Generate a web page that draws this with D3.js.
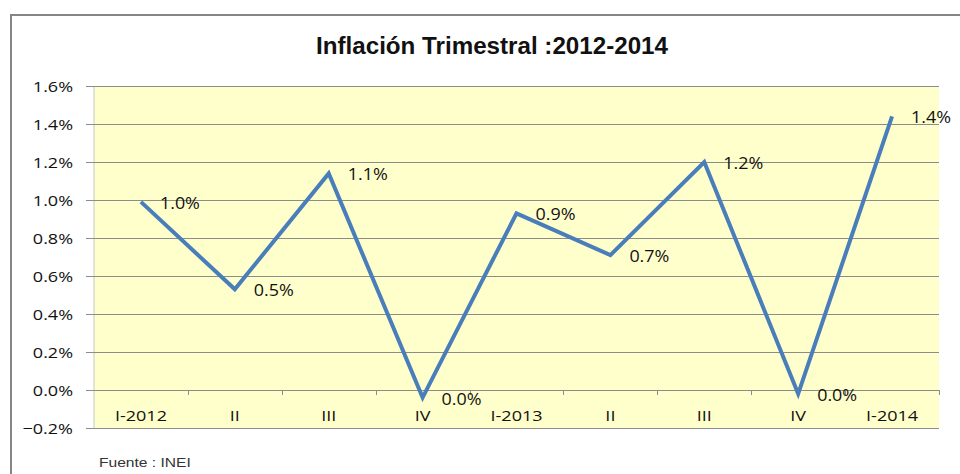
<!DOCTYPE html>
<html>
<head>
<meta charset="utf-8">
<script src="https://cdn.jsdelivr.net/npm/d3@7"></script>
<style>
  body { margin: 0; background: #fff; }
  svg { display: block; }
</style>
</head>
<body>
<div id="chart"></div>
<script>
// data
var quarters = ["I-2012", "II", "III", "IV", "I-2013", "II", "III", "IV", "I-2014"];
var inflation = [0.0099, 0.0053, 0.0114, -0.0004, 0.0093, 0.0071, 0.0120, -0.0002, 0.0144];
var pointLabels = ["1.0%", "0.5%", "1.1%", "0.0%", "0.9%", "0.7%", "1.2%", "0.0%", "1.4%"];
var yTicks = [-0.002, 0, 0.002, 0.004, 0.006, 0.008, 0.010, 0.012, 0.014, 0.016];

var width = 960, height = 474;
var margin = {top: 86, right: 21, bottom: 46, left: 94};

var svg = d3.select("#chart").append("svg")
  .attr("width", width)
  .attr("height", height);

// outer frame
svg.append("rect")
  .attr("x", 11).attr("y", 15)
  .attr("width", 980).attr("height", 500)
  .attr("fill", "none")
  .attr("stroke", "#868686")
  .attr("stroke-width", 2);

var x = d3.scaleBand()
  .domain(d3.range(quarters.length))
  .range([margin.left, width - margin.right])
  .padding(0);

var y = d3.scaleLinear()
  .domain([-0.002, 0.016])
  .range([height - margin.bottom, margin.top]);

// plot background
svg.append("rect")
  .attr("x", margin.left).attr("y", margin.top)
  .attr("width", width - margin.right - margin.left)
  .attr("height", height - margin.bottom - margin.top)
  .attr("fill", "#ffffcc");

svg.append("line")
  .attr("x1", margin.left).attr("x2", margin.left)
  .attr("y1", margin.top).attr("y2", height - margin.bottom)
  .attr("stroke", "#c8c8c8");

// gridlines + y labels
var fmt = d3.format(".1%");
var grid = svg.append("g");
grid.selectAll("line")
  .data(yTicks)
  .enter().append("line")
  .attr("x1", margin.left - 8)
  .attr("x2", width - margin.right)
  .attr("y1", function(d) { return Math.round(y(d)) + 0.5; })
  .attr("y2", function(d) { return Math.round(y(d)) + 0.5; })
  .attr("stroke", "#8c8c8c")
  .attr("stroke-width", 1);

grid.selectAll("text")
  .data(yTicks)
  .enter().append("text")
  .attr("transform", function(d) { return "translate(73," + (y(d) + 5.5) + ") scale(1.2,1)"; })
  .attr("text-anchor", "end")
  .attr("font-family", "Open Sans")
  .attr("font-size", 15)
  .attr("fill", "#111")
  .text(function(d) { return fmt(d); });

// category ticks on the zero line
var bounds = d3.range(quarters.length + 1).map(function(i) {
  return margin.left + i * x.bandwidth();
});
svg.append("g").selectAll("line")
  .data(bounds.slice(1))
  .enter().append("line")
  .attr("x1", function(d) { return Math.round(d) + 0.5; })
  .attr("x2", function(d) { return Math.round(d) + 0.5; })
  .attr("y1", y(0))
  .attr("y2", y(0) + 5)
  .attr("stroke", "#8c8c8c");

// category labels
svg.append("g").selectAll("text")
  .data(quarters)
  .enter().append("text")
  .attr("transform", function(d, i) {
    return "translate(" + (x(i) + x.bandwidth() / 2) + ",421) scale(1.2,1)";
  })
  .attr("text-anchor", "middle")
  .attr("font-family", "Open Sans")
  .attr("font-size", 15)
  .attr("fill", "#111")
  .text(function(d) { return d; });

// line
var line = d3.line()
  .x(function(d, i) { return x(i) + x.bandwidth() / 2; })
  .y(function(d) { return y(d); });

svg.append("path")
  .datum(inflation)
  .attr("d", line)
  .attr("fill", "none")
  .attr("stroke", "#4a7ebb")
  .attr("stroke-width", 4)
  .attr("stroke-linejoin", "miter");

// data labels
svg.append("g").selectAll("text")
  .data(inflation)
  .enter().append("text")
  .attr("transform", function(d, i) {
    var px = x(i) + x.bandwidth() / 2 + 19;
    var py = y(d) + 7;
    return "translate(" + px + "," + py + ") scale(1.12,1)";
  })
  .attr("font-family", "Open Sans")
  .attr("font-size", 16)
  .attr("fill", "#111")
  .text(function(d, i) { return pointLabels[i]; });

// title
svg.append("text")
  .attr("x", 316).attr("y", 54)
  .attr("textLength", 352)
  .attr("lengthAdjust", "spacingAndGlyphs")
  .attr("font-family", "Liberation Sans")
  .attr("font-weight", "bold")
  .attr("font-size", 23)
  .attr("fill", "#111")
  .text("Inflación Trimestral :2012-2014");

// source note
svg.append("text")
  .attr("transform", "translate(99,467) scale(1.3,1)")
  .attr("font-family", "Liberation Sans")
  .attr("font-size", 12)
  .attr("fill", "#333")
  .text("Fuente : INEI");
</script>
</body>
</html>
